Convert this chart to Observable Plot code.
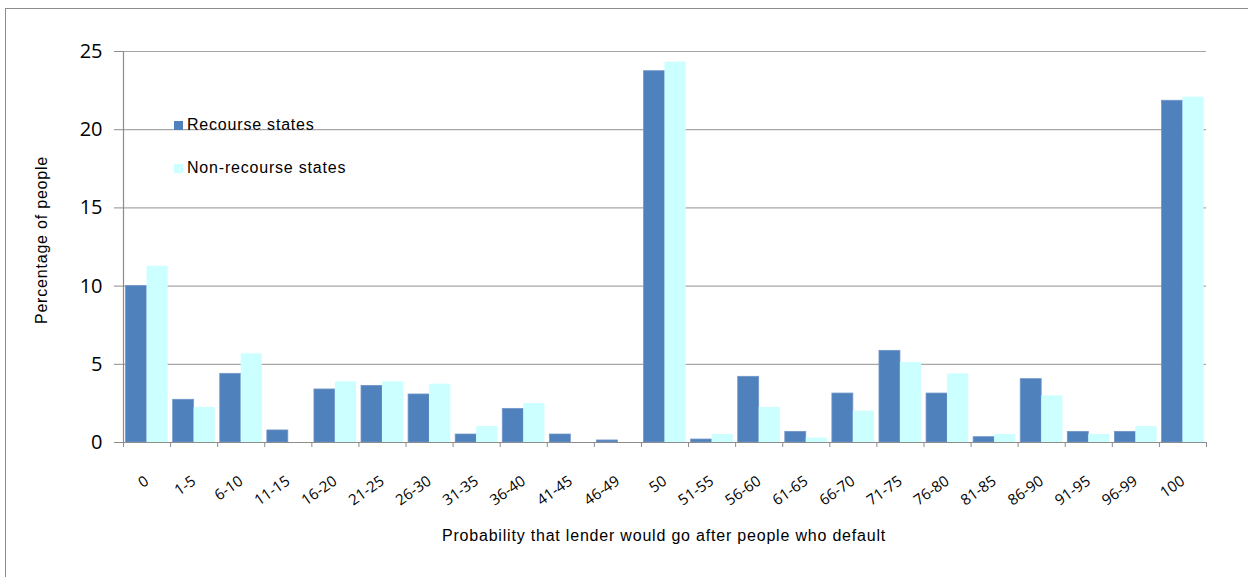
<!DOCTYPE html>
<html>
<head>
<meta charset="utf-8">
<script src="https://cdn.jsdelivr.net/npm/d3@7"></script>
<script src="https://cdn.jsdelivr.net/npm/@observablehq/plot@0.6"></script>
<style>
  html, body { margin: 0; padding: 0; background: #fff; }
  #wrap { position: relative; width: 1248px; height: 577px; overflow: hidden; background: #fff; }
  #frame { position: absolute; left: 5px; top: 8px; width: 1300px; height: 640px; border: 1px solid #8c8c8c; box-sizing: border-box; }
  #chart { position: absolute; left: 0; top: 0; }
  .t { position: absolute; font-family: "Liberation Sans", Arial, sans-serif; font-size: 16px; letter-spacing: 0.8px; color: #000; white-space: nowrap; }
  #ytitle { left: 42px; top: 240px; transform: translate(-50%, -50%) rotate(-90deg); }
  #xtitle { left: 664px; top: 536px; transform: translate(-50%, -50%); }
  .leg { position: absolute; left: 174px; display: flex; align-items: center; }
  .sw { width: 9px; height: 9px; margin-right: 4px; }
</style>
</head>
<body>
<div id="wrap">
  <div id="frame"></div>
  <div id="chart"></div>
  <div class="t" id="ytitle">Percentage of people</div>
  <div class="t" id="xtitle">Probability that lender would go after people who default</div>
  <div class="leg t" id="leg1" style="top:116px"><div class="sw" style="background:#4F81BD"></div>Recourse states</div>
  <div class="leg t" id="leg2" style="top:159px"><div class="sw" style="background:#CCFFFF"></div>Non-recourse states</div>
</div>
<script>
const categories = ["0","1-5","6-10","11-15","16-20","21-25","26-30","31-35","36-40","41-45","46-49","50","51-55","56-60","61-65","66-70","71-75","76-80","81-85","86-90","91-95","96-99","100"];
const recourse    = [10.0, 2.73, 4.39, 0.77, 3.39, 3.62, 3.07, 0.51, 2.15, 0.51, 0.13, 23.74, 0.19, 4.2, 0.68, 3.13, 5.86, 3.13, 0.34, 4.05, 0.68, 0.68, 21.85];
const nonRecourse = [11.27, 2.24, 5.67, 0, 3.88, 3.88, 3.73, 1.02, 2.49, 0, 0, 24.32, 0.51, 2.24, 0.28, 2.0, 5.11, 4.39, 0.51, 2.98, 0.51, 1.02, 22.08];
const seriesNames = ["Recourse states", "Non-recourse states"];
const seriesColors = ["#4F81BD", "#CCFFFF"];
const yTicks = [0, 5, 10, 15, 20, 25];

const rows = [];
categories.forEach((c, i) => {
  rows.push({i, cat: c, series: seriesNames[0], value: recourse[i], s: 0});
  rows.push({i, cat: c, series: seriesNames[1], value: nonRecourse[i], s: 1});
});

const n = categories.length;
const plot = Plot.plot({
  width: 1248,
  height: 577,
  marginLeft: 123,
  marginRight: 42,
  marginTop: 51,
  marginBottom: 135,
  style: {background: "transparent", overflow: "visible"},
  x: {domain: [0, n], axis: null},
  y: {domain: [0, 25], axis: null},
  color: {domain: seriesNames, range: seriesColors},
  marks: [
    Plot.ruleY(yTicks.filter(d => d > 0), {stroke: "#a6a6a6", strokeWidth: 1.2}),
    Plot.rectY(rows, {
      x1: d => d.i + (d.s === 0 ? 0.055 : 0.5),
      x2: d => d.i + (d.s === 0 ? 0.5 : 0.95),
      y1: 0,
      y2: "value",
      fill: "series",
      stroke: d => d.s === 0 ? "#7096c8" : "none",
      strokeWidth: 0.8
    }),
    Plot.ruleY([0], {stroke: "#8c8c8c", strokeWidth: 1.2, x1: -0.19, x2: n}),
    Plot.ruleX([0], {stroke: "#8c8c8c", strokeWidth: 1.2}),
    Plot.axisY({ticks: yTicks, tickSize: 9, tickPadding: 12, stroke: "#8c8c8c", fontSize: 20,
      fontFamily: "'Open Sans', sans-serif", fill: "#000", label: null}),
    Plot.axisX({ticks: d3.range(0, n + 1), tickSize: 5, tickFormat: () => "", stroke: "#8c8c8c", label: null}),
    Plot.axisX({ticks: d3.range(n).map(i => i + 0.5), tickSize: 0, tickPadding: 37,
      tickFormat: v => categories[Math.round(v - 0.5)], tickRotate: -35, fontSize: 15,
      fontFamily: "'Open Sans', sans-serif", fill: "#000", label: null})
  ]
});
document.getElementById("chart").appendChild(plot);
</script>
</body>
</html>
